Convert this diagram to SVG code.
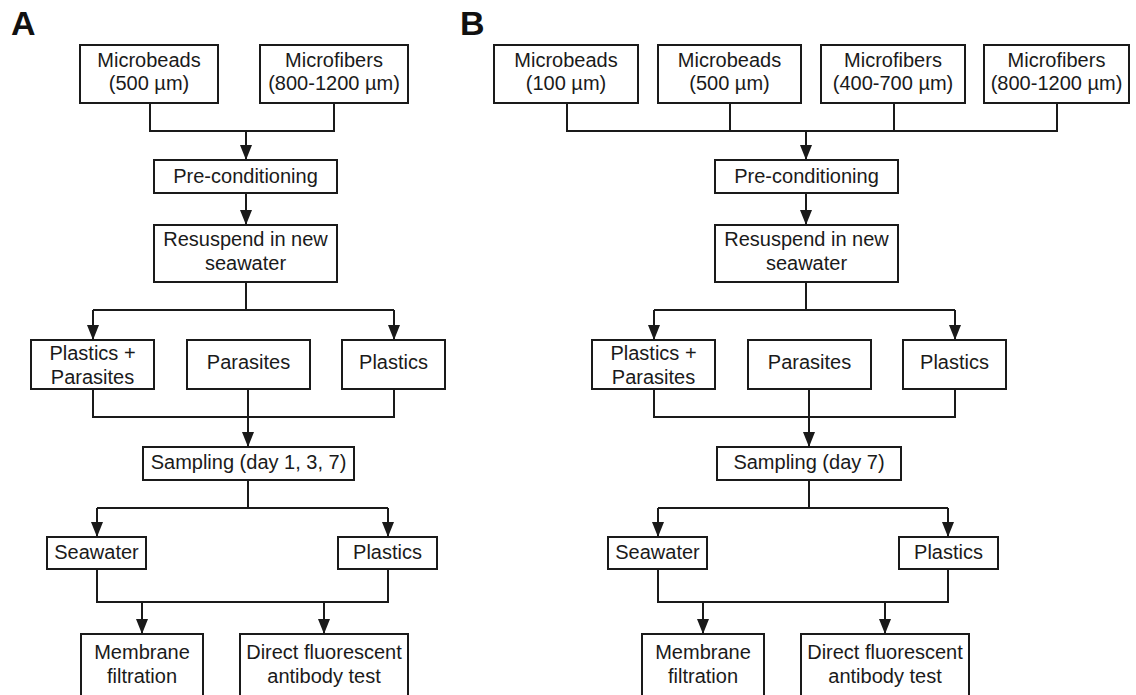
<svg xmlns="http://www.w3.org/2000/svg" width="1136" height="695" viewBox="0 0 1136 695">
<style>
.box{fill:#fff;stroke:#1a1a1a;stroke-width:2}
.t{font-family:"Liberation Sans",Arial,sans-serif;font-size:20px;fill:#1a1a1a;text-anchor:middle}
.lbl{font-family:"Liberation Sans",Arial,sans-serif;font-size:34px;font-weight:bold;fill:#111}
.c{fill:none;stroke:#1a1a1a;stroke-width:2}
.a{fill:none;stroke:#1a1a1a;stroke-width:2;marker-end:url(#ah)}
</style>
<defs>
<marker id="ah" markerUnits="userSpaceOnUse" viewBox="0 0 15 12" markerWidth="15" markerHeight="12" refX="15" refY="6" orient="auto">
<path d="M0,0 L15,6 L0,12 z" fill="#1a1a1a"/>
</marker>
</defs>
<rect width="1136" height="695" fill="#fff"/>
<text class="lbl" x="11" y="35">A</text>
<text class="lbl" x="460" y="35">B</text>

<g id="connectors">
<!-- Panel A -->
<path class="c" d="M150,102 V131 H334 V102"/>
<path class="a" d="M246,131 V160"/>
<path class="a" d="M246,193 V225"/>
<path class="c" d="M246,282 V310 M93,310 H394"/>
<path class="a" d="M93,310 V340"/>
<path class="a" d="M394,310 V340"/>
<path class="c" d="M93,389 V417 H394 V389"/>
<path class="a" d="M248,389 V447"/>
<path class="c" d="M248,480 V508 M97,508 H388"/>
<path class="a" d="M97,508 V537"/>
<path class="a" d="M388,508 V537"/>
<path class="c" d="M97,569 V602 H388 V569"/>
<path class="a" d="M142,602 V634"/>
<path class="a" d="M324,602 V634"/>
<!-- Panel B -->
<path class="c" d="M567,103 V131 H1057 V103 M730,103 V131 M894,103 V131"/>
<path class="a" d="M806,131 V160"/>
<path class="a" d="M806,193 V225"/>
<path class="c" d="M806,282 V310 M654,310 H955"/>
<path class="a" d="M654,310 V340"/>
<path class="a" d="M955,310 V340"/>
<path class="c" d="M654,389 V417 H955 V389"/>
<path class="a" d="M809,389 V447"/>
<path class="c" d="M809,480 V508 M658,508 H948"/>
<path class="a" d="M658,508 V537"/>
<path class="a" d="M948,508 V537"/>
<path class="c" d="M658,569 V602 H948 V569"/>
<path class="a" d="M703,602 V634"/>
<path class="a" d="M885,602 V634"/>
</g>

<!-- Panel A nodes -->
<g id="a-microbeads"><rect class="box" x="80" y="45" width="138" height="58"/><text class="t" x="149" y="67">Microbeads</text><text class="t" x="149" y="90">(500 µm)</text></g>
<g id="a-microfibers"><rect class="box" x="260" y="45" width="148" height="58"/><text class="t" x="334" y="67">Microfibers</text><text class="t" x="334" y="90">(800-1200 µm)</text></g>
<g id="a-precond"><rect class="box" x="154" y="160" width="183" height="33"/><text class="t" x="245.5" y="183">Pre-conditioning</text></g>
<g id="a-resuspend"><rect class="box" x="154" y="225" width="183" height="57"/><text class="t" x="245.5" y="246">Resuspend in new</text><text class="t" x="245.5" y="270">seawater</text></g>
<g id="a-plastpar"><rect class="box" x="31" y="340" width="123" height="49"/><text class="t" x="92.5" y="360">Plastics +</text><text class="t" x="92.5" y="384">Parasites</text></g>
<g id="a-parasites"><rect class="box" x="187" y="340" width="123" height="49"/><text class="t" x="248.5" y="369">Parasites</text></g>
<g id="a-plastics"><rect class="box" x="342" y="340" width="103" height="49"/><text class="t" x="393.5" y="369">Plastics</text></g>
<g id="a-sampling"><rect class="box" x="143" y="447" width="211" height="33"/><text class="t" x="248.5" y="469">Sampling (day 1, 3, 7)</text></g>
<g id="a-seawater"><rect class="box" x="47" y="537" width="99" height="32"/><text class="t" x="96.5" y="559">Seawater</text></g>
<g id="a-plastics2"><rect class="box" x="338" y="537" width="99" height="32"/><text class="t" x="387.5" y="559">Plastics</text></g>
<g id="a-membrane"><rect class="box" x="81" y="634" width="122" height="75"/><text class="t" x="142" y="659">Membrane</text><text class="t" x="142" y="683">filtration</text></g>
<g id="a-dfa"><rect class="box" x="240" y="634" width="168" height="75"/><text class="t" x="324" y="659">Direct fluorescent</text><text class="t" x="324" y="683">antibody test</text></g>

<!-- Panel B nodes -->
<g id="b-microbeads100"><rect class="box" x="494" y="45" width="144" height="58"/><text class="t" x="566" y="67">Microbeads</text><text class="t" x="566" y="90">(100 µm)</text></g>
<g id="b-microbeads500"><rect class="box" x="658" y="45" width="143" height="58"/><text class="t" x="729.5" y="67">Microbeads</text><text class="t" x="729.5" y="90">(500 µm)</text></g>
<g id="b-microfibers400"><rect class="box" x="821" y="45" width="144" height="58"/><text class="t" x="893" y="67">Microfibers</text><text class="t" x="893" y="90">(400-700 µm)</text></g>
<g id="b-microfibers800"><rect class="box" x="984" y="45" width="145" height="58"/><text class="t" x="1056.5" y="67">Microfibers</text><text class="t" x="1056.5" y="90">(800-1200 µm)</text></g>
<g id="b-precond"><rect class="box" x="715" y="160" width="183" height="33"/><text class="t" x="806.5" y="183">Pre-conditioning</text></g>
<g id="b-resuspend"><rect class="box" x="715" y="225" width="183" height="57"/><text class="t" x="806.5" y="246">Resuspend in new</text><text class="t" x="806.5" y="270">seawater</text></g>
<g id="b-plastpar"><rect class="box" x="592" y="340" width="123" height="49"/><text class="t" x="653.5" y="360">Plastics +</text><text class="t" x="653.5" y="384">Parasites</text></g>
<g id="b-parasites"><rect class="box" x="748" y="340" width="123" height="49"/><text class="t" x="809.5" y="369">Parasites</text></g>
<g id="b-plastics"><rect class="box" x="903" y="340" width="103" height="49"/><text class="t" x="954.5" y="369">Plastics</text></g>
<g id="b-sampling"><rect class="box" x="717" y="447" width="184" height="33"/><text class="t" x="809" y="469">Sampling (day 7)</text></g>
<g id="b-seawater"><rect class="box" x="608" y="537" width="99" height="32"/><text class="t" x="657.5" y="559">Seawater</text></g>
<g id="b-plastics2"><rect class="box" x="899" y="537" width="99" height="32"/><text class="t" x="948.5" y="559">Plastics</text></g>
<g id="b-membrane"><rect class="box" x="642" y="634" width="122" height="75"/><text class="t" x="703" y="659">Membrane</text><text class="t" x="703" y="683">filtration</text></g>
<g id="b-dfa"><rect class="box" x="801" y="634" width="168" height="75"/><text class="t" x="885" y="659">Direct fluorescent</text><text class="t" x="885" y="683">antibody test</text></g>
</svg>
